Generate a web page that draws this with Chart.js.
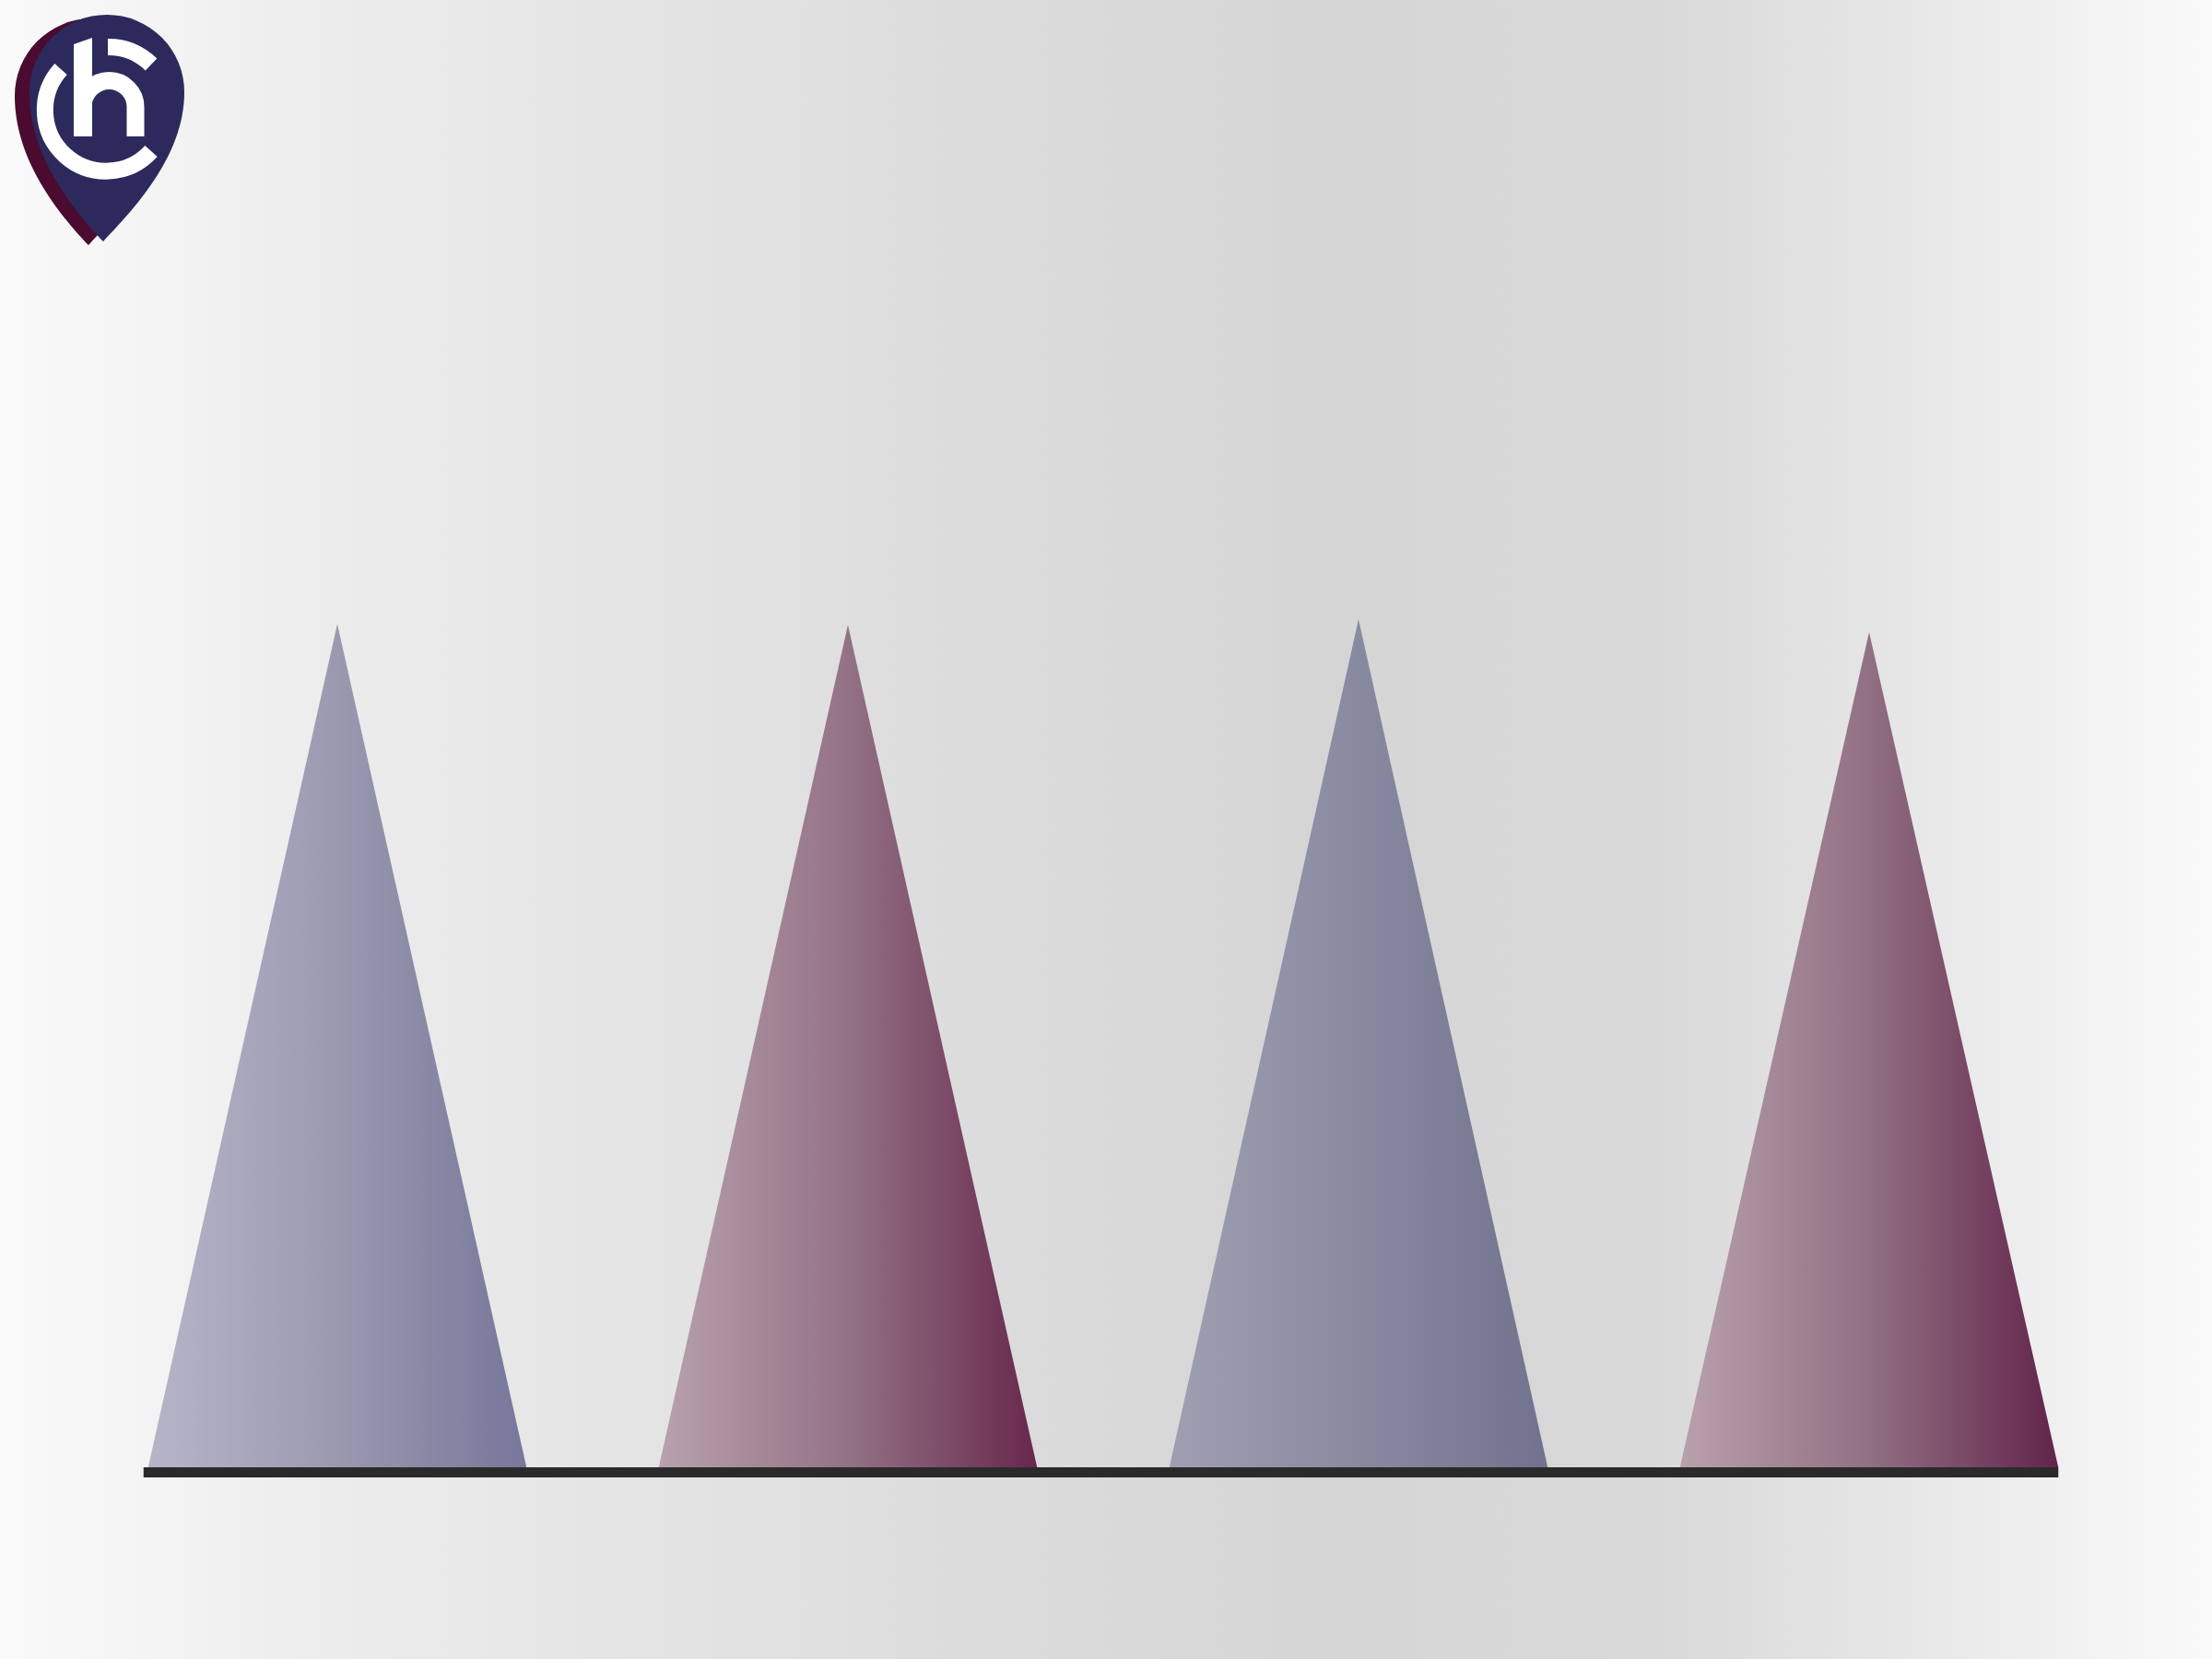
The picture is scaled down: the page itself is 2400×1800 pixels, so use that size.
<!DOCTYPE html>
<html lang="en">
<head>
    <meta charset="UTF-8">
    <title>Triangle chart</title>
    <script src="https://cdn.jsdelivr.net/npm/chart.js"></script>
    <style>
        body {
            margin: 0;
            padding: 0;
            background: #f4f4f4;
        }
        #wrap {
            position: relative;
            width: 2400px;
            height: 1800px;
        }
        #logo {
            position: absolute;
            left: 0;
            top: 0;
        }
    </style>
</head>
<body>
<div id="wrap">
    <canvas id="coneChart" width="2400" height="1800"></canvas>
    <svg id="logo" width="240" height="300" viewBox="0 0 240 300">
        <!-- maroon shadow of the pin -->
        <path d="M 112 262 C 80 228, 32 170, 32 100 A 84 84 0 0 1 200 100 C 200 170, 144 228, 112 262 Z"
              fill="#4b0b30" transform="translate(-16,4)"/>
        <path d="M 112 262 C 80 228, 32 170, 32 100 A 84 84 0 0 1 200 100 C 200 170, 144 228, 112 262 Z"
              fill="#2c2a5c"/>
        <g fill="none" stroke="#ffffff" stroke-width="18">
            <path d="M 164 70 A 66 66 0 0 0 117 51"/>
            <path d="M 66 75 A 66 66 0 0 0 164 164"/>
            <path d="M 147 148 V 116 A 28.5 28.5 0 0 0 90 116" stroke-width="19"/>
        </g>
        <polygon points="80,48 100,41 100,148 80,148" fill="#ffffff"/>
    </svg>
</div>

<script>
// chart values (no axes or labels are shown on the picture)
const categories = ['1', '2', '3', '4'];
const values = [91.5, 91.4, 92.0, 90.6];

// left / middle / right colours of each cone
const coneColors = [
    ['#b6b5c8', '#9a99b0', '#76779a'],
    ['#b9a1ad', '#937285', '#67284c'],
    ['#a09fb2', '#888aa0', '#71728f'],
    ['#b9a1ac', '#917083', '#62244a']
];

const backgroundPlugin = {
    id: 'pageBackground',
    beforeDraw(chart) {
        const ctx = chart.ctx;
        const w = chart.width, h = chart.height;
        const g = ctx.createLinearGradient(0, 0, w, 0);
        g.addColorStop(0, '#fafafa');
        g.addColorStop(0.15, '#ececec');
        g.addColorStop(0.42, '#dddddd');
        g.addColorStop(0.6, '#d5d5d5');
        g.addColorStop(0.75, '#d9d9d9');
        g.addColorStop(0.88, '#e9e9e9');
        g.addColorStop(1, '#fafafa');
        ctx.save();
        ctx.fillStyle = g;
        ctx.fillRect(0, 0, w, h);
        ctx.restore();
    }
};

// draw each bar as a triangle with a horizontal gradient, then the base line
const conePlugin = {
    id: 'cones',
    afterDatasetsDraw(chart) {
        const ctx = chart.ctx;
        const meta = chart.getDatasetMeta(0);
        ctx.save();
        meta.data.forEach((bar, i) => {
            const p = bar.getProps(['x', 'y', 'base', 'width'], true);
            const left = p.x - p.width / 2;
            const right = p.x + p.width / 2;
            const c = coneColors[i % coneColors.length];
            const g = ctx.createLinearGradient(left, 0, right, 0);
            g.addColorStop(0, c[0]);
            g.addColorStop(0.5, c[1]);
            g.addColorStop(1, c[2]);
            ctx.fillStyle = g;
            ctx.beginPath();
            ctx.moveTo(left, p.base);
            ctx.lineTo(p.x, p.y);
            ctx.lineTo(right, p.base);
            ctx.closePath();
            ctx.fill();
        });
        const first = meta.data[0].getProps(['x', 'base', 'width'], true);
        const last = meta.data[meta.data.length - 1].getProps(['x', 'width'], true);
        const x0 = first.x - first.width / 2 - 5;
        const x1 = last.x + last.width / 2;
        ctx.fillStyle = '#2b2a2a';
        ctx.fillRect(x0, first.base, x1 - x0, 11);
        ctx.restore();
    }
};

const ctx = document.getElementById('coneChart').getContext('2d');
new Chart(ctx, {
    type: 'bar',
    data: {
        labels: categories,
        datasets: [{
            data: values,
            backgroundColor: 'rgba(0,0,0,0)',
            borderWidth: 0,
            barPercentage: 0.741,
            categoryPercentage: 1.0
        }]
    },
    options: {
        responsive: false,
        devicePixelRatio: 1,
        animation: false,
        layout: {
            padding: { top: 592, bottom: 208, left: 89, right: 95 }
        },
        scales: {
            x: { display: false },
            y: { display: false, min: 0, max: 100 }
        },
        plugins: {
            legend: { display: false },
            tooltip: { enabled: false }
        }
    },
    plugins: [backgroundPlugin, conePlugin]
});
</script>
</body>
</html>
